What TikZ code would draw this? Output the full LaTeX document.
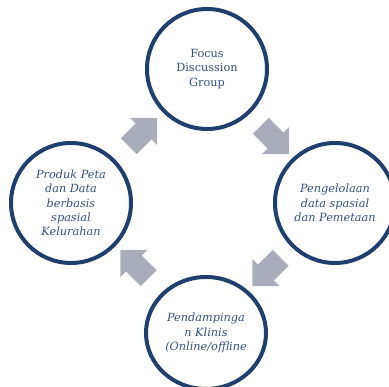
\documentclass[tikz,border=0pt]{standalone}
\usepackage{fontspec}
\setmainfont{DejaVu Serif}
\usetikzlibrary{positioning}
\usetikzlibrary{calc}
\usetikzlibrary{shapes.geometric}
\usetikzlibrary{shapes.arrows}

\definecolor{garis}{HTML}{1F3F6E}
\definecolor{teks}{HTML}{34517F}
\definecolor{panahabu}{HTML}{A9ADB9}

\tikzset{
    siklus/.style={draw=garis, line width=4pt, fill=white, text=teks,
        align=center, font=\fontsize{11.3}{14.3}\selectfont},
    bulat/.style={siklus, circle, minimum size=120pt, inner sep=0pt},
    lonjong/.style={siklus, ellipse, minimum width=120pt, minimum height=112pt, inner sep=0pt},
    panah/.style={single arrow, fill=panahabu, draw=none, inner xsep=0pt, inner ysep=11pt,
        minimum height=40pt, minimum width=38pt, single arrow head extend=8pt,
        single arrow tip angle=90}
}

\begin{document}
\begin{tikzpicture}[x=1pt,y=1pt]

    \useasboundingbox (0,0) rectangle (389,387);

    \node[bulat] (fgd) at (207,318) {Focus\\Discussion\\Group};
    \node[bulat] (olah) at (335,184) {\itshape Pengelolaan\\\itshape data spasial\\\itshape dan Pemetaan};
    \node[lonjong] (damping) at (206,54) {\itshape Pendampinga\\\itshape n Klinis\\\itshape (Online/offline};
    \node[bulat] (produk) at (71,184) {\itshape Produk Peta\\\itshape dan Data\\\itshape berbasis\\\itshape spasial\\\itshape Kelurahan};

\foreach \a/\b/\r in {fgd/olah/-45, olah/damping/-135, damping/produk/135, produk/fgd/45}
{
    \node[panah, rotate=\r] at ($(\a)!0.5!(\b)$) {};
}

\end{tikzpicture}
\end{document}
